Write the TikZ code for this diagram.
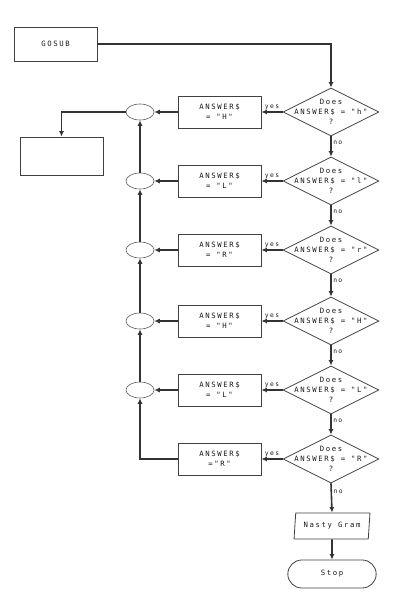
\documentclass[tikz,border=0pt]{standalone}
\usepackage{fontspec}
\newfontfamily\dotfont[LetterSpace=22]{DejaVu Sans Mono}
\usetikzlibrary{positioning, shapes.geometric, shapes.misc, arrows.meta}

\begin{document}
\begin{tikzpicture}[x=1pt, y=-1pt,
  font=\dotfont\fontsize{7.3}{10}\selectfont,
  every node/.style={text=black!90},
  box/.style={draw=black!75, line width=0.8pt, minimum width=83pt, minimum height=32pt, inner sep=0pt, align=center},
  dia/.style={draw=black!75, line width=0.8pt, diamond, minimum width=96pt, minimum height=48pt, inner sep=0pt},
  joint/.style={draw=black!65, line width=0.6pt, ellipse, minimum width=28pt, minimum height=16pt, inner sep=0pt},
  flow/.style={draw=black!80, line width=1.6pt, -{Latex[length=5.5pt,width=5pt]}},
  tag/.style={font=\dotfont\fontsize{6.3}{7}\selectfont, inner sep=1.5pt}]
  \useasboundingbox (0,0) rectangle (400,600);
  % Entry
  \node[box, minimum height=34pt] (gosub) at (55.5,44) {GOSUB};
  % Tests and answers
  \foreach \i/\y/\q/\a in {1/112/h/{= "H"}, 2/181/l/{= "L"}, 3/250/r/{= "R"},
                           4/321/H/{= "H"}, 5/390/L/{= "L"}, 6/459/R/{="R"}} {
    \node[dia] (d\i) at (331,\y) {};
    \node[align=center] (q\i) at (d\i) {Does\\ANSWER\$ = "\q"\\?};
    \node[box] (b\i) at (219.5,\y) {ANSWER\$\\\a};
    \draw[flow] (d\i.west) -- (b\i.east) node[tag, midway, above] {yes};
  }
  \draw[flow] (gosub.east) -| (d1.north);
  \foreach \i/\j in {1/2, 2/3, 3/4, 4/5, 5/6}
    \draw[flow] (d\i.south) -- (d\j.north) node[tag, pos=0.3, right] {no};
  % Joints
  \foreach \i/\y in {1/112, 2/181, 3/250, 4/321, 5/390} {
    \node[joint] (e\i) at (140,\y) {};
    \draw[flow] (b\i.west) -- (e\i.east);
  }
  \foreach \i/\j in {1/2, 2/3, 3/4, 4/5}
    \draw[flow] (e\j.north) -- (e\i.south);
  \draw[flow] (b6.west) -| (e5.south);
  % Exit box
  \node[box, minimum height=38pt] (out) at (61.5,156) {};
  \draw[flow] (e1.west) -| (out.north);
  % End of chain
  \node[draw=black!75, line width=0.8pt, trapezium, trapezium left angle=79, trapezium right angle=101,
        trapezium stretches=true, minimum width=76pt, minimum height=26pt, inner sep=0pt] (gram) at (332,526) {Nasty Gram};
  \node[draw=black!75, line width=0.8pt, rounded rectangle, minimum width=95pt, minimum height=28pt] (stop) at (332,574) {Stop};
  \draw[flow] (d6.south) -- (gram.north) node[tag, pos=0.3, right] {no};
  \draw[flow] (gram.south) -- (stop.north);
\end{tikzpicture}
\end{document}
